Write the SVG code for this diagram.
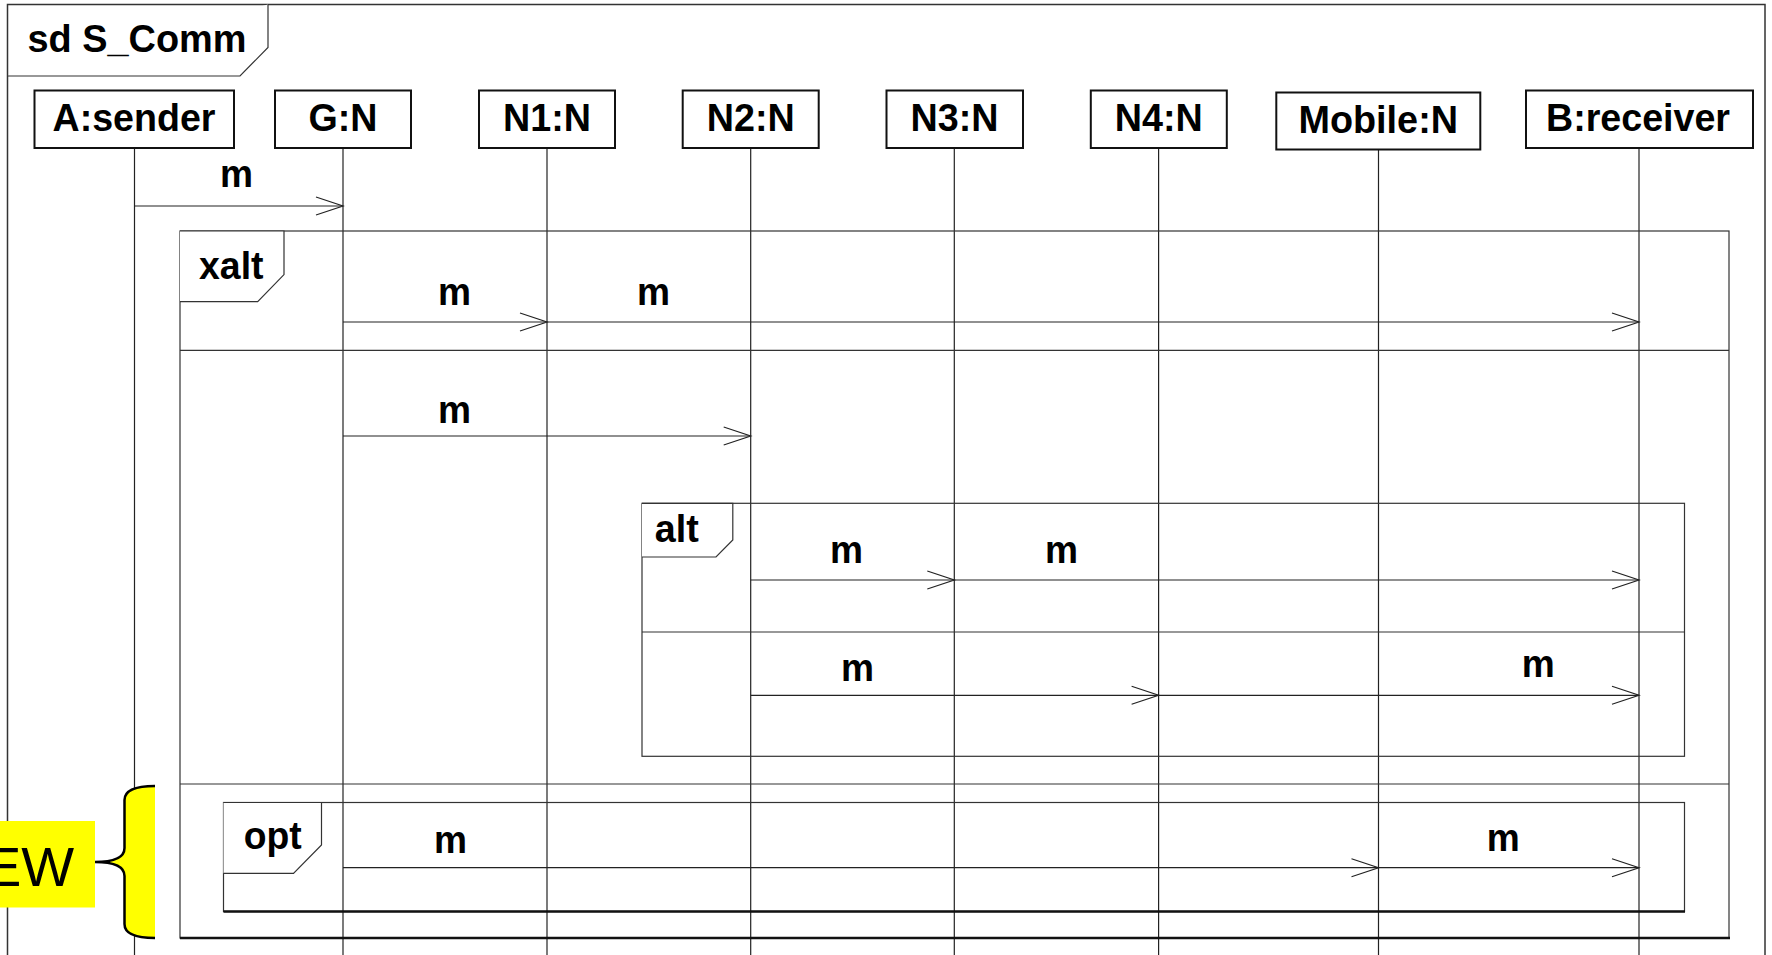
<svg xmlns="http://www.w3.org/2000/svg" width="1772" height="955" viewBox="0 0 1772 955">
  <style>
    .frame{fill:none;stroke:#333;stroke-width:1.5}
    .frag{fill:none;stroke:#333;stroke-width:1.2}
    .tag{fill:#fff;stroke:#333;stroke-width:1.2}
    .thick{stroke:#111;stroke-width:2.4}
    .head{fill:#fff;stroke:#111;stroke-width:2}
    .life{stroke:#222;stroke-width:1.2}
    .sep{stroke:#333;stroke-width:1.2}
    .msg{fill:none;stroke:#222;stroke-width:1.2;marker-end:url(#open)}
    .lbl{font-family:"Liberation Sans",Arial,sans-serif;font-weight:bold;font-size:39px;fill:#000}
    .note{font-family:"Liberation Sans",Arial,sans-serif;font-size:56px;fill:#000}
  </style>
  <defs>
    <marker id="open" markerUnits="userSpaceOnUse" markerWidth="32" markerHeight="24" refX="27" refY="9" orient="auto" overflow="visible">
      <path d="M0,0 L27,9 L0,18" fill="none" stroke="#222" stroke-width="1.2"/>
    </marker>
  </defs>

  <rect width="1772" height="955" fill="#fff"/>

  <!-- sequence diagram frame -->
  <g id="frame">
    <rect class="frame" x="7.5" y="4.5" width="1757.5" height="960"/>
    <path class="tag" d="M7.5,76 L240,76 L268,47.5 L268,4.5"/>
    <text class="lbl" x="27.5" y="52" textLength="219" lengthAdjust="spacingAndGlyphs">sd S_Comm</text>
  </g>

  <!-- lifelines -->
  <g id="A">
    <line class="life" x1="134.5" y1="148" x2="134.5" y2="955"/>
    <rect class="head" x="34.5" y="90.5" width="199.5" height="57.5"/>
    <text class="lbl" x="52.5" y="131" textLength="163" lengthAdjust="spacingAndGlyphs">A:sender</text>
  </g>
  <g id="G">
    <line class="life" x1="343" y1="148" x2="343" y2="955"/>
    <rect class="head" x="275" y="90.5" width="136" height="57.5"/>
    <text class="lbl" x="308.5" y="131" textLength="69" lengthAdjust="spacingAndGlyphs">G:N</text>
  </g>
  <g id="N1">
    <line class="life" x1="547" y1="148" x2="547" y2="955"/>
    <rect class="head" x="479" y="90.5" width="136" height="57.5"/>
    <text class="lbl" x="503" y="131" textLength="88" lengthAdjust="spacingAndGlyphs">N1:N</text>
  </g>
  <g id="N2">
    <line class="life" x1="750.7" y1="148" x2="750.7" y2="955"/>
    <rect class="head" x="682.7" y="90.5" width="136" height="57.5"/>
    <text class="lbl" x="706.8" y="131" textLength="88" lengthAdjust="spacingAndGlyphs">N2:N</text>
  </g>
  <g id="N3">
    <line class="life" x1="954.3" y1="148" x2="954.3" y2="955"/>
    <rect class="head" x="886.5" y="90.5" width="136.5" height="57.5"/>
    <text class="lbl" x="910.5" y="131" textLength="88" lengthAdjust="spacingAndGlyphs">N3:N</text>
  </g>
  <g id="N4">
    <line class="life" x1="1158.6" y1="148" x2="1158.6" y2="955"/>
    <rect class="head" x="1090.8" y="90.5" width="136" height="57.5"/>
    <text class="lbl" x="1114.8" y="131" textLength="88" lengthAdjust="spacingAndGlyphs">N4:N</text>
  </g>
  <g id="Mobile">
    <line class="life" x1="1378.5" y1="150" x2="1378.5" y2="955"/>
    <rect class="head" x="1276.3" y="92.5" width="204" height="57"/>
    <text class="lbl" x="1298.5" y="133" textLength="159.5" lengthAdjust="spacingAndGlyphs">Mobile:N</text>
  </g>
  <g id="B">
    <line class="life" x1="1639" y1="148" x2="1639" y2="955"/>
    <rect class="head" x="1526" y="90.5" width="227" height="57.5"/>
    <text class="lbl" x="1546" y="131" textLength="184" lengthAdjust="spacingAndGlyphs">B:receiver</text>
  </g>

  <!-- combined fragments -->
  <g id="xalt">
    <rect class="frag" x="180" y="231" width="1549" height="707"/>
    <line class="thick" x1="180" y1="938" x2="1730" y2="938"/>
    <path class="tag" d="M180,231 L284,231 L284,274.6 L257.7,301.7 L180,301.7"/>
    <text class="lbl" x="199" y="279" textLength="64.5" lengthAdjust="spacingAndGlyphs">xalt</text>
    <line class="sep" x1="180" y1="350.3" x2="1729" y2="350.3"/>
    <line class="sep" x1="180" y1="784" x2="1729" y2="784"/>
  </g>
  <g id="alt">
    <rect class="frag" x="642" y="503.3" width="1042.5" height="253"/>
    <path class="tag" d="M642,503.3 L732.8,503.3 L732.8,540 L716,557 L642,557"/>
    <text class="lbl" x="654.7" y="541.7" textLength="44" lengthAdjust="spacingAndGlyphs">alt</text>
    <line class="sep" x1="642" y1="632" x2="1684.5" y2="632"/>
  </g>
  <g id="opt">
    <rect class="frag" x="223.5" y="802.5" width="1461" height="109"/>
    <line class="thick" x1="223.5" y1="911.5" x2="1685" y2="911.5"/>
    <path class="tag" d="M223.5,802.5 L321.5,802.5 L321.5,845 L293.5,873.3 L223.5,873.3"/>
    <text class="lbl" x="243.8" y="849.3" textLength="58" lengthAdjust="spacingAndGlyphs">opt</text>
  </g>

  <!-- messages -->
  <g id="messages">
    <line class="msg" x1="134.5" y1="206" x2="343" y2="206"/>
    <text class="lbl" x="220" y="186.5" textLength="33" lengthAdjust="spacingAndGlyphs">m</text>

    <line class="msg" x1="343" y1="322" x2="547" y2="322"/>
    <text class="lbl" x="438" y="304.5" textLength="33" lengthAdjust="spacingAndGlyphs">m</text>
    <line class="msg" x1="547" y1="322" x2="1639" y2="322"/>
    <text class="lbl" x="637" y="304.5" textLength="33" lengthAdjust="spacingAndGlyphs">m</text>

    <line class="msg" x1="343" y1="436" x2="750.7" y2="436"/>
    <text class="lbl" x="438" y="422.6" textLength="33" lengthAdjust="spacingAndGlyphs">m</text>

    <line class="msg" x1="750.7" y1="580" x2="954.3" y2="580"/>
    <text class="lbl" x="830" y="562.7" textLength="33" lengthAdjust="spacingAndGlyphs">m</text>
    <line class="msg" x1="954.3" y1="580" x2="1639" y2="580"/>
    <text class="lbl" x="1045" y="562.7" textLength="33" lengthAdjust="spacingAndGlyphs">m</text>

    <line class="msg" x1="750.7" y1="695.3" x2="1158.6" y2="695.3"/>
    <text class="lbl" x="841" y="680.7" textLength="33" lengthAdjust="spacingAndGlyphs">m</text>
    <line class="msg" x1="1158.6" y1="695.3" x2="1639" y2="695.3"/>
    <text class="lbl" x="1521.8" y="677.3" textLength="33" lengthAdjust="spacingAndGlyphs">m</text>

    <line class="msg" x1="343" y1="867.7" x2="1378.5" y2="867.7"/>
    <text class="lbl" x="434" y="853.3" textLength="33" lengthAdjust="spacingAndGlyphs">m</text>
    <line class="msg" x1="1378.5" y1="867.7" x2="1639" y2="867.7"/>
    <text class="lbl" x="1486.8" y="850.7" textLength="33" lengthAdjust="spacingAndGlyphs">m</text>
  </g>

  <!-- highlighted note with brace -->
  <g id="note">
    <rect x="0" y="821" width="95" height="86.5" fill="#ffff00"/>
    <text class="note" x="-16" y="886">EW</text>
    <path d="M155,786 C136,786 124.5,790 124.5,800 L124.5,848 C124.5,858 112,862 95,862 C112,862 124.5,866 124.5,876 L124.5,924 C124.5,934 136,938 155,938 Z" fill="#ffff00" stroke="none"/>
    <path d="M155,786 C136,786 124.5,790 124.5,800 L124.5,848 C124.5,858 112,862 95,862 C112,862 124.5,866 124.5,876 L124.5,924 C124.5,934 136,938 155,938" fill="none" stroke="#000" stroke-width="2.5"/>
  </g>
</svg>
